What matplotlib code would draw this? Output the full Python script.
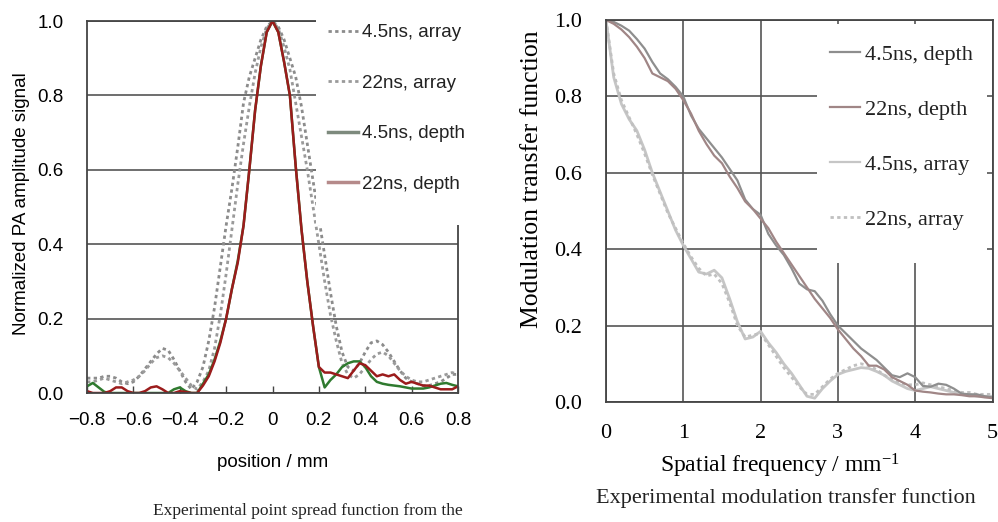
import numpy as np
import matplotlib
matplotlib.use("Agg")
import matplotlib.pyplot as plt
from matplotlib.lines import Line2D
from matplotlib.patches import Rectangle

plt.rcParams['mathtext.fontset'] = 'custom'
plt.rcParams['mathtext.rm'] = 'Liberation Serif'
plt.rcParams['text.color'] = '#222222'

# ---- left panel: point spread function ----
position = np.round(np.arange(-0.8, 0.8001, 0.025), 3)

psf_45_array = [0.04, 0.04, 0.04, 0.045, 0.045, 0.04, 0.03, 0.025, 0.03, 0.045,
                0.065, 0.085, 0.105, 0.12, 0.115, 0.09, 0.06, 0.03, 0.01, 0.03,
                0.07, 0.14, 0.23, 0.34, 0.45, 0.55, 0.66, 0.78, 0.85, 0.9,
                0.95, 0.985, 1.0, 0.985, 0.95, 0.9, 0.85, 0.77, 0.67, 0.57,
                0.47, 0.37, 0.27, 0.18, 0.11, 0.07, 0.06, 0.08, 0.11, 0.135,
                0.14, 0.13, 0.11, 0.085, 0.06, 0.04, 0.03, 0.025, 0.02, 0.02,
                0.025, 0.03, 0.04, 0.05, 0.05]
psf_22_array = [0.03, 0.03, 0.035, 0.04, 0.035, 0.03, 0.025, 0.03, 0.035, 0.045,
                0.06, 0.08, 0.095, 0.1, 0.095, 0.08, 0.06, 0.04, 0.02, 0.01,
                0.03, 0.06, 0.12, 0.21, 0.32, 0.44, 0.56, 0.67, 0.77, 0.86,
                0.93, 0.98, 1.0, 0.98, 0.93, 0.87, 0.78, 0.69, 0.6, 0.5,
                0.4, 0.3, 0.21, 0.14, 0.08, 0.05, 0.04, 0.05, 0.07, 0.09,
                0.105, 0.11, 0.1, 0.08, 0.06, 0.045, 0.035, 0.03, 0.03, 0.035,
                0.04, 0.045, 0.05, 0.055, 0.05]
psf_45_depth = [0.018, 0.027, 0.015, 0.003, 0.0, 0.0, 0.0, 0.0, 0.0, 0.0,
                0.0, 0.0, 0.0, 0.0, 0.0, 0.01, 0.015, 0.005, 0.0, 0.0,
                0.025, 0.05, 0.09, 0.14, 0.2, 0.28, 0.355, 0.45, 0.6, 0.76,
                0.88, 0.97, 1.0, 0.97, 0.89, 0.8, 0.61, 0.44, 0.3, 0.18,
                0.07, 0.015, 0.035, 0.05, 0.07, 0.08, 0.085, 0.085, 0.07, 0.045,
                0.03, 0.025, 0.022, 0.02, 0.018, 0.015, 0.012, 0.012, 0.012, 0.015,
                0.02, 0.025, 0.027, 0.022, 0.018]
psf_22_depth = [0.005, 0.0, 0.0, 0.0, 0.005, 0.015, 0.015, 0.005, 0.0, 0.0,
                0.005, 0.015, 0.018, 0.01, 0.0, 0.0, 0.005, 0.003, 0.0, 0.0,
                0.02, 0.045, 0.085, 0.135, 0.2, 0.28, 0.35, 0.45, 0.6, 0.76,
                0.88, 0.97, 1.0, 0.97, 0.89, 0.8, 0.61, 0.44, 0.3, 0.18,
                0.07, 0.055, 0.055, 0.05, 0.045, 0.04, 0.06, 0.08, 0.075, 0.06,
                0.045, 0.05, 0.045, 0.05, 0.035, 0.025, 0.03, 0.025, 0.02, 0.02,
                0.015, 0.01, 0.01, 0.01, 0.018]

pos_ticks = [-0.8, -0.6, -0.4, -0.2, 0.0, 0.2, 0.4, 0.6, 0.8]
pos_ticklabels = ['\u22120.8', '\u22120.6', '\u22120.4', '\u22120.2', '0',
                  '0.2', '0.4', '0.6', '0.8']
amp_ticks = [0.0, 0.2, 0.4, 0.6, 0.8, 1.0]
amp_ticklabels = ['0.0', '0.2', '0.4', '0.6', '0.8', '1.0']
psf_labels = ['4.5ns, array', '22ns, array', '4.5ns, depth', '22ns, depth']

# ---- right panel: modulation transfer function ----
freq = np.round(np.arange(0, 5.001, 0.1), 2)

mtf_45_depth = [1.0, 0.995, 0.985, 0.972, 0.95, 0.925, 0.89, 0.86, 0.845, 0.825,
                0.80, 0.75, 0.715, 0.69, 0.665, 0.64, 0.61, 0.58, 0.53, 0.505,
                0.49, 0.44, 0.41, 0.385, 0.35, 0.31, 0.295, 0.29, 0.265, 0.23,
                0.2, 0.18, 0.16, 0.14, 0.125, 0.11, 0.09, 0.07, 0.065, 0.075,
                0.065, 0.042, 0.04, 0.048, 0.045, 0.035, 0.022, 0.02, 0.02, 0.015, 0.012]
mtf_22_depth = [1.0, 0.99, 0.975, 0.955, 0.93, 0.90, 0.86, 0.85, 0.84, 0.82,
                0.79, 0.755, 0.71, 0.675, 0.645, 0.625, 0.59, 0.56, 0.525, 0.505,
                0.48, 0.455, 0.42, 0.39, 0.36, 0.33, 0.30, 0.27, 0.245, 0.22,
                0.19, 0.165, 0.14, 0.12, 0.095, 0.095, 0.085, 0.065, 0.055, 0.045,
                0.03, 0.027, 0.025, 0.022, 0.02, 0.02, 0.018, 0.015, 0.015, 0.012, 0.01]
mtf_45_array = [1.0, 0.85, 0.78, 0.74, 0.71, 0.66, 0.60, 0.55, 0.50, 0.45,
                0.41, 0.375, 0.34, 0.335, 0.345, 0.325, 0.27, 0.21, 0.165, 0.17,
                0.185, 0.155, 0.13, 0.10, 0.075, 0.045, 0.015, 0.01, 0.035, 0.055,
                0.072, 0.08, 0.085, 0.09, 0.088, 0.08, 0.07, 0.055, 0.045, 0.035,
                0.03, 0.035, 0.04, 0.035, 0.03, 0.025, 0.02, 0.02, 0.015, 0.015, 0.015]
mtf_22_array = [1.0, 0.86, 0.79, 0.745, 0.70, 0.65, 0.595, 0.545, 0.495, 0.455,
                0.415, 0.38, 0.35, 0.33, 0.335, 0.31, 0.26, 0.2, 0.17, 0.175,
                0.18, 0.15, 0.12, 0.09, 0.065, 0.04, 0.02, 0.02, 0.04, 0.06,
                0.075, 0.085, 0.095, 0.1, 0.095, 0.085, 0.07, 0.06, 0.05, 0.045,
                0.045, 0.05, 0.045, 0.04, 0.035, 0.03, 0.025, 0.025, 0.02, 0.02, 0.02]

freq_ticks = [0, 1, 2, 3, 4, 5]
mtf_ticks = [0.0, 0.2, 0.4, 0.6, 0.8, 1.0]
mtf_ticklabels = ['0.0', '0.2', '0.4', '0.6', '0.8', '1.0']
mtf_labels = ['4.5ns, depth', '22ns, depth', '4.5ns, array', '22ns, array']

grid_c = '#555555'
spine_c = '#444444'
dot = (0, (1.2, 1.2))

fig = plt.figure(figsize=(9.98, 5.22), dpi=100)

# ================= left =================
sans = 'Liberation Sans'
ax1 = fig.add_axes([0.0872, 0.2471, 0.3717, 0.7126])
ax1.plot(position, psf_45_array, color='#8c8c8c', lw=2, ls=dot)
ax1.plot(position, psf_22_array, color='#9a9a9a', lw=2, ls=dot)
ax1.plot(position, psf_45_depth, color='#2f7a2f', lw=1.8)
ax1.plot(position, psf_22_depth, color='#9b1c1c', lw=1.8)

ax1.set_xlim(-0.8, 0.8)
ax1.set_ylim(0, 1)
ax1.set_xticks(pos_ticks)
ax1.set_xticklabels(pos_ticklabels, fontfamily=sans, fontsize=13.5)
ax1.set_yticks(amp_ticks)
ax1.set_yticklabels(amp_ticklabels, fontfamily=sans, fontsize=13.5)
ax1.grid(axis='y', color=grid_c, lw=1.2)
ax1.tick_params(axis='x', direction='in', length=5, width=1, color=spine_c, pad=14)
ax1.tick_params(axis='y', length=0, pad=17)
for s in ax1.spines.values():
    s.set_color(spine_c)
    s.set_linewidth(1.3)

ax1.set_xlabel('position / mm', fontfamily=sans, fontsize=13.5)
ax1.xaxis.set_label_coords(0.5, -0.165)
ax1.set_ylabel('Normalized PA amplitude signal', fontfamily=sans, fontsize=13.5)
ax1.yaxis.set_label_coords(-0.154, 0.508)

# white area behind the legend
ax1.add_patch(Rectangle((0.617, 0.452), 0.5, 0.7, transform=ax1.transAxes,
                        facecolor='white', edgecolor='none', zorder=2.6, clip_on=False))
h1 = [Line2D([], [], color='#8c8c8c', lw=2, ls=dot),
      Line2D([], [], color='#9a9a9a', lw=2, ls=dot),
      Line2D([], [], color='#7d8a7d', lw=2.5),
      Line2D([], [], color='#b58a8a', lw=2.5)]
ax1.legend(h1, psf_labels, loc='upper left', bbox_to_anchor=(0.65, 0.992),
           frameon=False, borderpad=0, borderaxespad=0, handlelength=1.6,
           handletextpad=0.2, labelspacing=1.78,
           prop={'family': sans, 'size': 13.5})

# ================= right =================
serif = 'Liberation Serif'
ax2 = fig.add_axes([0.6072, 0.2299, 0.3873, 0.7318])
ax2.plot(freq, mtf_45_array, color='#c6c6c6', lw=2)
ax2.plot(freq, mtf_22_array, color='#c0c0c0', lw=2, ls=dot)
ax2.plot(freq, mtf_45_depth, color='#8e8e8e', lw=1.6)
ax2.plot(freq, mtf_22_depth, color='#a08686', lw=1.6)

ax2.set_xlim(0, 5)
ax2.set_ylim(0, 1)
ax2.set_xticks(freq_ticks)
ax2.set_xticklabels([str(t) for t in freq_ticks], fontfamily=serif, fontsize=16)
ax2.set_yticks(mtf_ticks)
ax2.set_yticklabels(mtf_ticklabels, fontfamily=serif, fontsize=16)
ax2.grid(True, color=grid_c, lw=1.2)
ax2.tick_params(axis='both', length=0)
ax2.tick_params(axis='x', pad=16)
ax2.tick_params(axis='y', pad=17)
for s in ax2.spines.values():
    s.set_color(spine_c)
    s.set_linewidth(1.3)

ax2.set_xlabel('Spatial frequency / $\\mathregular{mm^{-1}}$', fontfamily=serif, fontsize=17)
ax2.xaxis.set_label_coords(0.45, -0.13)
ax2.set_ylabel('Modulation transfer function', fontfamily=serif, fontsize=18.5)
ax2.yaxis.set_label_coords(-0.163, 0.584)

ax2.add_patch(Rectangle((0.546, 0.364), 0.44, 0.626, transform=ax2.transAxes,
                        facecolor='white', edgecolor='none', zorder=2.6))
h2 = [Line2D([], [], color='#8e8e8e', lw=1.6),
      Line2D([], [], color='#a08686', lw=1.6),
      Line2D([], [], color='#c6c6c6', lw=1.6),
      Line2D([], [], color='#c0c0c0', lw=2, ls=dot)]
ax2.legend(h2, mtf_labels, loc='upper left', bbox_to_anchor=(0.58, 0.937),
           frameon=False, borderpad=0, borderaxespad=0, handlelength=1.35,
           handletextpad=0.22, labelspacing=1.55,
           prop={'family': serif, 'size': 16})

# captions below the panels
fig.text(308 / 998, 1 - 511 / 522, 'Experimental point spread function from the',
         ha='center', va='center', fontfamily=serif, fontsize=12.5)
fig.text(786 / 998, 1 - 498 / 522, 'Experimental modulation transfer function',
         ha='center', va='center', fontfamily=serif, fontsize=16)

fig.savefig('out.png', dpi=100, facecolor='white')
